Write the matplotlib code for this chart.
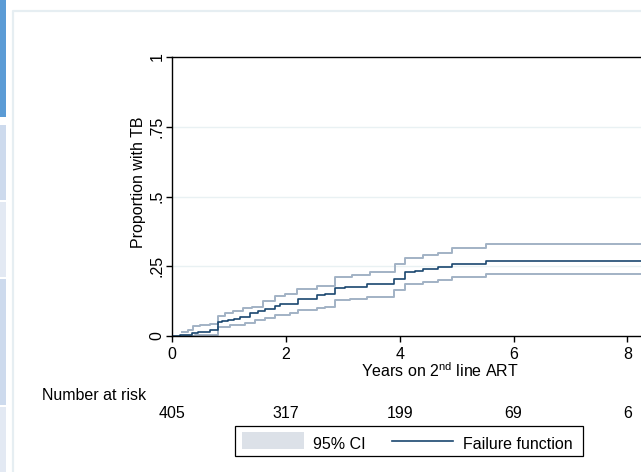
import matplotlib
matplotlib.use('Agg')
import matplotlib.pyplot as plt
from matplotlib.patches import Rectangle
from matplotlib.lines import Line2D
import matplotlib.transforms as mtransforms

plt.rcParams['font.family'] = ['Liberation Sans', 'DejaVu Sans']
plt.rcParams['mathtext.fontset'] = 'custom'
plt.rcParams['mathtext.rm'] = 'Liberation Sans'

# Kaplan-Meier failure function (years, cumulative proportion with TB)
fail_t = [0, 0.14, 0.25, 0.35, 0.46, 0.56, 0.67, 0.81, 0.88, 0.98, 1.09, 1.20, 1.37,
          1.51, 1.63, 1.81, 1.90, 2.21, 2.34, 2.55, 2.69, 2.87, 3.04, 3.22, 3.43,
          3.66, 3.90, 4.10, 4.27, 4.41, 4.68, 4.92, 5.52, 9.0]
fail_y = [0, 0.002, 0.005, 0.009, 0.013, 0.016, 0.020, 0.049, 0.054, 0.057, 0.061,
          0.068, 0.081, 0.088, 0.095, 0.107, 0.116, 0.132, 0.134, 0.147, 0.150, 0.172,
          0.175, 0.177, 0.186, 0.188, 0.206, 0.231, 0.234, 0.240, 0.247, 0.257, 0.268, 0.268]

# 95% confidence limits
upper_t = [0.18, 0.28, 0.37, 0.49, 0.67, 0.81, 0.93, 1.07, 1.25, 1.41, 1.60, 1.81,
           1.99, 2.20, 2.55, 2.87, 3.16, 3.48, 3.92, 4.10, 4.41, 4.68, 4.92, 5.52, 9.0]
upper_y = [0.016, 0.021, 0.036, 0.039, 0.043, 0.073, 0.082, 0.089, 0.100, 0.105, 0.125,
           0.145, 0.150, 0.168, 0.181, 0.211, 0.220, 0.230, 0.257, 0.281, 0.291, 0.297,
           0.314, 0.328, 0.328]
lower_t = [0.18, 0.40, 0.62, 0.81, 1.02, 1.28, 1.46, 1.63, 1.81, 2.07, 2.21, 2.55,
           2.69, 2.87, 3.13, 3.43, 3.90, 4.10, 4.41, 4.68, 4.92, 5.52, 9.0]
lower_y = [0.000, 0.002, 0.004, 0.034, 0.039, 0.048, 0.057, 0.063, 0.077, 0.082, 0.093,
           0.102, 0.105, 0.129, 0.134, 0.141, 0.165, 0.188, 0.195, 0.202, 0.212, 0.221, 0.221]

risk_times = [0, 2, 4, 6, 8]
risk_counts = [405, 317, 199, 69, 6]

y_ticks = [0, 0.25, 0.5, 0.75, 1]
y_tick_labels = ['0', '.25', '.5', '.75', '1']

W, H = 641, 472
FS = 11.5
navy = '#1a476f'
ci_col = '#a2b2c5'
grid_col = '#e9f1f3'


def fx(px):
    return px / W


def fy(py):
    return 1 - py / H


fig = plt.figure(figsize=(6.41, 4.72), dpi=100)

# page chrome around the graph
for y0, y1, c in [(0, 117, '#5b9bd5'), (125, 200, '#cddaed'), (202, 277, '#e3e9f3'),
                  (279, 405, '#cddaed'), (407, 472, '#e3e9f3')]:
    fig.add_artist(Rectangle((0, fy(y1)), fx(6), (y1 - y0) / H, transform=fig.transFigure,
                             facecolor=c, edgecolor='none'))
fig.add_artist(Line2D([fx(13), fx(13), 1], [0, fy(11), fy(11)], transform=fig.transFigure,
                      color='#e6eef2', lw=1.6))

ax = fig.add_axes([fx(172), fy(336), fx(706 - 172), (336 - 57) / H])
ax.set_xlim(0, 9.38)
ax.set_ylim(0, 1)

for g in [0.25, 0.5, 0.75]:
    ax.axhline(g, color=grid_col, lw=1, zorder=0)

ax.step(upper_t, upper_y, where='post', color=ci_col, lw=1.4)
ax.step(lower_t, lower_y, where='post', color=ci_col, lw=1.4)
ax.step(fail_t, fail_y, where='post', color=navy, lw=1.2)

ax.spines['right'].set_visible(False)
for s in ['left', 'bottom', 'top']:
    ax.spines[s].set_linewidth(1)

ax.set_xticks(risk_times)
ax.set_yticks(y_ticks)
ax.set_yticklabels(y_tick_labels, rotation=90, va='center')
ax.tick_params(axis='both', direction='out', length=4.5, width=1, labelsize=FS)
ax.tick_params(axis='x', pad=3.5)
ax.tick_params(axis='y', pad=1)

fig.text(fx(440), fy(376.7), 'Years on 2$^{\\mathrm{nd}}$ line ART', ha='center',
         va='baseline', fontsize=FS)
fig.text(fx(139), fy(182.5), 'Proportion with TB', rotation=90, ha='center',
         va='center', fontsize=FS)

# number at risk table
fig.text(fx(42), fy(400), 'Number at risk', ha='left', va='baseline', fontsize=FS)
trans = mtransforms.blended_transform_factory(ax.transData, fig.transFigure)
for t, n in zip(risk_times, risk_counts):
    ax.text(t, fy(418), str(n), transform=trans, ha='center', va='baseline',
            fontsize=FS, clip_on=False)

# legend
fig.add_artist(Rectangle((fx(235), fy(456)), fx(583 - 235), (456 - 426) / H,
                         transform=fig.transFigure, facecolor='white',
                         edgecolor='black', lw=0.9))
fig.add_artist(Rectangle((fx(242), fy(449)), fx(304 - 242), (449 - 432) / H,
                         transform=fig.transFigure, facecolor='#dce1e8', edgecolor='none'))
fig.text(fx(313), fy(449), '95% CI', ha='left', va='baseline', fontsize=FS)
fig.add_artist(Line2D([fx(392), fx(453)], [fy(441), fy(441)], transform=fig.transFigure,
                      color=navy, lw=1.2))
fig.text(fx(463), fy(449), 'Failure function', ha='left', va='baseline', fontsize=FS)

fig.savefig('out.png', dpi=100)
